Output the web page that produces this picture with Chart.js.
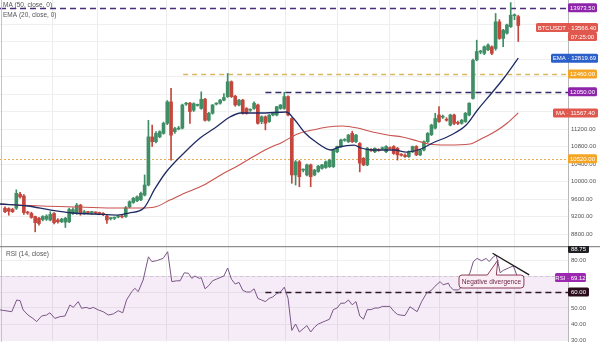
<!DOCTYPE html>
<html>
<head>
<meta charset="utf-8">
<script src="https://cdn.jsdelivr.net/npm/chart.js@4.4.0/dist/chart.umd.min.js"></script>
<style>
  html, body { margin: 0; padding: 0; background: #fff; }
  #wrap { width: 600px; height: 342px; position: relative; overflow: hidden; }
  #pricePane { position: absolute; left: 0; top: 0; width: 600px; height: 246px; }
  #rsiPane { position: absolute; left: 0; top: 246px; width: 600px; height: 96px; }
</style>
</head>
<body>
<div id="wrap">
  <div id="pricePane"><canvas id="priceChart"></canvas></div>
  <div id="rsiPane"><canvas id="rsiChart"></canvas></div>
</div>
<script>
// daily BTC/USDT candles, oldest first
const opens = [
  9390, 9380, 9360, 9390, 9710, 9670, 9290, 9270, 9200, 9160,
  9130, 9140, 9120, 9270, 9120, 9080, 9070, 9080, 9270, 9270,
  9460, 9270, 9300, 9290, 9300, 9280, 9270, 9210, 9150, 9160,
  9190, 9200, 9200, 9420, 9520, 9560, 9580, 9690, 9920, 11020,
  10910, 11020, 11100, 11330, 11820, 11140, 11200, 11220, 11770, 11790,
  11630, 11740, 11670, 11880, 11400, 11560, 11770, 11790, 11860, 11940,
  12280, 11950, 11750, 11860, 11670, 11630, 11670, 11750, 11370, 11480,
  11370, 11520, 11520, 11670, 11670, 11940, 11440, 10150, 10450, 10260,
  10150, 10380, 10150, 10230, 10300, 10320, 10340, 10340, 10680, 10800,
  10940, 10910, 11100, 10910, 10870, 10530, 10380, 10720, 10680, 10720,
  10750, 10680, 10760, 10800, 10760, 10610, 10600, 10570, 10680, 10800,
  10610, 10720, 10910, 11070, 11220, 11520, 11470, 11420, 11290, 11520,
  11340, 11330, 11370, 11520, 11900, 12780, 12960, 12930, 13010, 13080,
  13040, 13650, 13270, 13390, 13540, 13790, 13770
];
const highs = [
  9420, 9400, 9390, 9810, 9750, 9700, 9320, 9300, 9210, 9180,
  9220, 9240, 9310, 9290, 9150, 9160, 9180, 9390, 9400, 9500,
  9480, 9340, 9320, 9320, 9310, 9300, 9290, 9240, 9180, 9190,
  9220, 9230, 9430, 9560, 9640, 9670, 9760, 10150, 11400, 11290,
  11140, 11160, 11360, 11850, 12130, 11240, 11260, 11770, 11810, 11810,
  11800, 11770, 12050, 11900, 11580, 11760, 11800, 11880, 12010, 12470,
  12300, 11970, 11880, 11880, 11690, 11660, 11820, 11770, 11500, 11500,
  11530, 11570, 11720, 11760, 12040, 11960, 11460, 10480, 10480, 10290,
  10400, 10400, 10280, 10370, 10390, 10470, 10510, 10740, 10810, 10970,
  10980, 11080, 11150, 11080, 10890, 10550, 10780, 10750, 10770, 10750,
  10790, 10820, 10790, 10820, 10780, 10640, 10630, 10700, 10810, 10820,
  10740, 10930, 11120, 11310, 11560, 11710, 11520, 11460, 11540, 11540,
  11380, 11420, 11580, 11800, 12800, 13230, 13000, 13100, 13150, 13100,
  13840, 13700, 13480, 13600, 14090, 13830, 13800
];
const lows = [
  9290, 9230, 9290, 9360, 9620, 9250, 9250, 9160, 8850, 9000,
  9100, 9110, 9100, 9030, 9050, 9060, 8950, 9060, 9250, 9250,
  9230, 9250, 9260, 9250, 9260, 9240, 9220, 9040, 9120, 9130,
  9170, 9170, 9180, 9400, 9500, 9540, 9560, 9670, 9900, 10800,
  10880, 11000, 11080, 11300, 10490, 11100, 11180, 11200, 11740, 11330,
  11600, 11720, 11650, 11380, 11380, 11540, 11750, 11770, 11840, 11920,
  11920, 11720, 11730, 11540, 11540, 11600, 11650, 11310, 11320, 11180,
  11350, 11500, 11500, 11650, 11650, 11500, 9960, 9920, 9880, 10220,
  10130, 9880, 10130, 10210, 10280, 10300, 10320, 10320, 10660, 10780,
  10920, 10890, 10890, 10890, 10220, 10360, 10360, 10690, 10660, 10690,
  10730, 10660, 10740, 10620, 10490, 10580, 10550, 10550, 10660, 10590,
  10590, 10700, 10890, 11050, 11200, 11350, 11440, 11380, 11270, 11300,
  11300, 11310, 11350, 11500, 11880, 12760, 12920, 12900, 12990, 12900,
  13000, 13250, 13080, 13370, 13520, 13700, 13200
];
const closes = [
  9310, 9320, 9310, 9730, 9650, 9290, 9280, 9180, 9060, 9040,
  9200, 9210, 9250, 9060, 9080, 9140, 9160, 9360, 9360, 9460,
  9270, 9310, 9290, 9300, 9280, 9270, 9250, 9120, 9160, 9170,
  9200, 9190, 9400, 9540, 9615, 9650, 9730, 9920, 11020, 10910,
  11100, 11140, 11330, 11820, 11060, 11210, 11220, 11750, 11790, 11600,
  11780, 11750, 11880, 11400, 11560, 11750, 11790, 11860, 11920, 12280,
  11940, 11750, 11860, 11560, 11560, 11640, 11790, 11330, 11480, 11330,
  11520, 11560, 11710, 11750, 11940, 11520, 10150, 10450, 10110, 10270,
  10380, 10110, 10260, 10350, 10380, 10450, 10490, 10720, 10800, 10950,
  10950, 11060, 10910, 11060, 10420, 10380, 10760, 10710, 10760, 10710,
  10760, 10800, 10750, 10640, 10610, 10600, 10570, 10680, 10800, 10610,
  10720, 10910, 11100, 11290, 11440, 11370, 11490, 11400, 11520, 11330,
  11330, 11400, 11560, 11790, 12770, 12970, 12980, 13080, 13120, 12930,
  13650, 13270, 13460, 13580, 13800, 13810, 13566.4
];

// EMA(20) and MA(50), [candle index, value]
const emaLine = [
  [-1.3, 9486], [6, 9440], [11.9, 9350], [17.9, 9280], [23.8, 9257], [29.8, 9234],
  [32.8, 9280], [36.8, 9394], [39.7, 9830], [42.7, 10217], [47.7, 10674], [51.7, 10994],
  [55.6, 11223], [59.6, 11474], [62.5, 11566], [67.6, 11566], [74.5, 11589], [76.6, 11429],
  [79.5, 11109], [82.4, 10903], [86.4, 10720], [88.5, 10789], [92.5, 10834], [94.3, 10766],
  [97.4, 10720], [103.3, 10720], [106.3, 10674], [110.2, 10743], [113.3, 10880], [118.2, 11063],
  [122.2, 11291], [125.2, 11634], [129.2, 12046], [132.2, 12366], [136, 12819.69]
];
const maLine = [
  [-1.3, 9486], [9.9, 9440], [19.9, 9417], [29.8, 9394], [35.8, 9394], [39.7, 9417],
  [43.7, 9577], [47.7, 9737], [52.7, 9920], [57.6, 10171], [61.6, 10354], [65.6, 10560],
  [69.6, 10750], [73.5, 10900], [77.5, 11086], [81.5, 11177], [85.5, 11246], [89.4, 11269],
  [93.4, 11223], [97.4, 11131], [101.4, 11063], [105.3, 11017], [109.3, 10926], [112.3, 10857],
  [117.2, 10834], [123.2, 10857], [126.1, 10971], [130.1, 11154], [133.1, 11337], [136, 11567.4]
];

// RSI(14), [candle index, value]
const rsiLine = [
  [-1.3, 48.8], [1.8, 47.7], [3.1, 55], [4, 54.6], [4.8, 48.8], [6.1, 45.6], [7.4, 43.5],
  [8.4, 41.5], [9.7, 45], [11, 45.6], [11.9, 47], [13.2, 43.5], [14.6, 44.6], [15.9, 45],
  [17.2, 51.9], [18.1, 50.4], [19.4, 54], [20.3, 49.8], [21.5, 50.4], [22.5, 49.6], [23.4, 50.4],
  [24.7, 48.8], [26, 47.7], [27.4, 45.6], [28.7, 46.3], [30, 48.3], [31.2, 47], [32.2, 55],
  [33.6, 60.2], [34.4, 62.3], [35.3, 60.2], [36.6, 67.5], [38, 82], [38.9, 79], [40.2, 79.6],
  [41.9, 81], [43.1, 85.2], [44.2, 66.5], [45.5, 67], [46.4, 67], [47.5, 72], [48.6, 71.7],
  [49.5, 68.5], [50.3, 70], [51.5, 68.5], [52, 69], [53, 62], [54, 64], [55, 67], [56, 68],
  [57, 69], [58, 70], [59, 75], [60, 68], [61, 65], [62, 66], [63, 61], [64, 60], [65, 60],
  [66, 62], [67, 56], [68, 55], [69, 54], [70, 56], [71, 57], [72, 59], [73, 60], [74, 63],
  [75, 56], [76, 36], [77, 40], [78, 35], [79, 37], [80, 39], [81, 35], [82, 38], [83, 40],
  [84, 41], [85, 42], [86, 43], [87, 49], [88, 50], [89, 53], [90, 53], [91, 55], [92, 52],
  [93, 54], [94, 45], [95, 43], [96, 49], [97, 49], [98, 50], [99, 50], [100, 51], [101, 51],
  [102, 51], [103, 48], [104, 46], [104.7, 45.6], [106, 45.3], [107.3, 50.8], [108.1, 49.5],
  [109.2, 47.7], [110.4, 54], [111.7, 59.2], [113.1, 61.3], [113.9, 63.5], [115.3, 66.5],
  [116.1, 64.5], [117.5, 65.5], [117.9, 63.5], [118.8, 61.3], [120.1, 61.3], [121, 63],
  [121.9, 66.5], [123.2, 71.9], [124.1, 79], [125.1, 81], [126.3, 79.5], [127.5, 81],
  [128.3, 79], [129.4, 82], [130.1, 83.1], [130.7, 77.9], [131.2, 72], [132, 73.5],
  [133.4, 75], [134.7, 76.3], [135.6, 70.6], [136, 69.12]
];

// horizontal levels
const priceLevels = [13973.5, 12460, 12050, 10520];
const rsiLevels = [60];

// axis ticks
const priceTicks = [8800, 9200, 9600, 10000, 10400, 10800, 11200, 11600, 12000, 12400, 12800, 13200, 13600];
const rsiTicks = [30, 40, 50, 60, 70, 80];
const timeMarks = [12.5, 24.4, 42.9, 59.1, 74.2, 88, 102, 115, 125.1, 135.1];

const FONT = '"Liberation Sans", Arial, sans-serif';
const UP = '#3f8e66';
const DOWN = '#c4473d';
const X_MIN = -1.325;
const X_MAX = 149.18;
const AXIS_W = 32;

const lastClose = closes[closes.length - 1];
const lastEma = emaLine[emaLine.length - 1][1];
const lastMa = maLine[maLine.length - 1][1];
const lastRsi = rsiLine[rsiLine.length - 1][1];

function drawTag(ctx, y, text, bg, left, right) {
  ctx.fillStyle = bg;
  ctx.beginPath();
  ctx.roundRect(left, y - 4.5, right - left, 9, 1.5);
  ctx.fill();
  ctx.fillStyle = '#fff';
  ctx.font = '6px ' + FONT;
  ctx.textAlign = 'center';
  ctx.textBaseline = 'middle';
  ctx.fillText(text, (left + right) / 2, y + 0.5);
}

function dashed(ctx, x0, x1, y, color, width, dash) {
  ctx.save();
  ctx.strokeStyle = color;
  ctx.lineWidth = width;
  ctx.setLineDash(dash);
  ctx.beginPath();
  ctx.moveTo(x0, y);
  ctx.lineTo(x1, y);
  ctx.stroke();
  ctx.restore();
}

function xAxis() {
  return {
    type: 'linear', min: X_MIN, max: X_MAX, offset: false,
    ticks: { display: false },
    grid: { color: '#ececec', drawTicks: false, offset: false },
    border: { display: false },
    afterBuildTicks: s => { s.ticks = timeMarks.map(v => ({ value: v })); }
  };
}

function fixAxis(s) {
  s.width = AXIS_W;
  s.paddingTop = 0;
  s.paddingBottom = 0;
}

const levelStyles = [
  { from: X_MIN, color: '#4a2b7c', width: 1.5, dash: [6, 4] },
  { from: 47.2, color: '#d8b75e', width: 1.5, dash: [5, 4] },
  { from: 69, color: '#342a68', width: 1.5, dash: [6, 4] },
  { from: X_MIN, color: '#e8ad55', width: 1, dash: [2, 2] }
];

const pricePlugin = {
  id: 'pricePlugin',
  beforeDatasetsDraw(chart) {
    const { ctx, chartArea: a, scales: { x, y } } = chart;
    priceLevels.forEach((p, i) => {
      const st = levelStyles[i];
      dashed(ctx, Math.max(a.left, x.getPixelForValue(st.from)), a.right, Math.round(y.getPixelForValue(p)) + 0.5, st.color, st.width, st.dash);
    });
    ctx.save();
    ctx.strokeStyle = '#c4c4c4';
    ctx.lineWidth = 1;
    ctx.beginPath();
    ctx.moveTo(1.5, 0);
    ctx.lineTo(1.5, a.bottom);
    ctx.stroke();
    ctx.restore();
  },
  afterDraw(chart) {
    const { ctx, chartArea: a, scales: { y } } = chart;
    ctx.save();
    ctx.fillStyle = '#555';
    ctx.font = '6.5px ' + FONT;
    ctx.textAlign = 'left';
    ctx.textBaseline = 'alphabetic';
    ctx.fillText('MA (50, close, 0)', 3, 7);
    ctx.fillText('EMA (20, close, 0)', 3, 16.5);

    const r = a.right;
    drawTag(ctx, y.getPixelForValue(priceLevels[0]), priceLevels[0].toFixed(2), '#8e24aa', r, r + 29);
    const cy = y.getPixelForValue(lastClose) + 2;
    drawTag(ctx, cy, 'BTCUSDT · ' + lastClose.toFixed(2), '#e0584d', r - 32, r + 30);
    drawTag(ctx, cy + 9, '07:25:00', '#e0584d', r, r + 29);
    drawTag(ctx, y.getPixelForValue(lastEma), 'EMA · ' + lastEma.toFixed(2), '#2b5fc9', r - 17, r + 30);
    drawTag(ctx, y.getPixelForValue(priceLevels[1]), priceLevels[1].toFixed(2), '#f5a524', r, r + 29);
    drawTag(ctx, y.getPixelForValue(priceLevels[2]), priceLevels[2].toFixed(2), '#8e24aa', r, r + 29);
    drawTag(ctx, y.getPixelForValue(lastMa), 'MA · ' + lastMa.toFixed(2), '#e0584d', r - 15, r + 30);
    drawTag(ctx, y.getPixelForValue(priceLevels[3]), priceLevels[3].toFixed(2), '#f5a524', r, r + 29);
    ctx.restore();
  }
};

const candleColor = c => closes[c.dataIndex] >= opens[c.dataIndex] ? UP : DOWN;
const priceTagValues = [...priceLevels, lastClose, lastEma, lastMa];

new Chart(document.getElementById('priceChart'), {
  type: 'bar',
  data: {
    datasets: [
      {
        type: 'line', label: 'EMA 20',
        data: emaLine.map(([x, y]) => ({ x, y })),
        borderColor: '#1f2b63', borderWidth: 1.3, pointRadius: 0,
        cubicInterpolationMode: 'monotone', order: 0
      },
      {
        type: 'line', label: 'MA 50',
        data: maLine.map(([x, y]) => ({ x, y })),
        borderColor: '#c8534f', borderWidth: 1.1, pointRadius: 0,
        cubicInterpolationMode: 'monotone', order: 0
      },
      {
        label: 'body',
        data: opens.map((o, i) => ({ x: i, y: [o, closes[i]] })),
        backgroundColor: candleColor, barThickness: 3, grouped: false,
        minBarLength: 1, order: 1
      },
      {
        label: 'wick',
        data: lows.map((l, i) => ({ x: i, y: [l, highs[i]] })),
        backgroundColor: candleColor, barThickness: 1, grouped: false, order: 2
      }
    ]
  },
  options: {
    responsive: true, maintainAspectRatio: false, animation: false,
    devicePixelRatio: 1,
    layout: { padding: 0 },
    plugins: { legend: { display: false }, tooltip: { enabled: false } },
    scales: {
      x: xAxis(),
      y: {
        position: 'right', min: 8526, max: 14149,
        ticks: {
          color: '#555', padding: 3, font: { family: FONT, size: 6 },
          callback: v => {
            if (priceTagValues.some(t => Math.abs(t - v) < 100)) return '';
            if (v < lastClose && lastClose - v < 400) return '';
            return v.toFixed(2);
          }
        },
        grid: { color: '#efefef', drawTicks: false },
        border: { color: '#b8b8b8' },
        afterBuildTicks: s => { s.ticks = priceTicks.map(v => ({ value: v })); },
        afterFit: fixAxis
      }
    }
  },
  plugins: [pricePlugin]
});

const rsiPlugin = {
  id: 'rsiPlugin',
  beforeDatasetsDraw(chart) {
    const { ctx, chartArea: a, scales: { x, y } } = chart;
    ctx.save();
    ctx.fillStyle = 'rgba(156, 39, 176, 0.09)';
    const top = y.getPixelForValue(70);
    ctx.fillRect(a.left, top, a.width, y.getPixelForValue(30) - top);
    ctx.restore();
    dashed(ctx, a.left, a.right, Math.round(top) + 0.5, '#d3c3d8', 1, [3, 3]);
    dashed(ctx, x.getPixelForValue(69), a.right, Math.round(y.getPixelForValue(rsiLevels[0])) + 0.5, '#2e1a24', 1.5, [6, 4]);
    ctx.save();
    ctx.strokeStyle = '#c4c4c4';
    ctx.beginPath();
    ctx.moveTo(1.5, 0);
    ctx.lineTo(1.5, a.bottom);
    ctx.stroke();
    ctx.restore();
  },
  afterDatasetsDraw(chart) {
    const { ctx, scales: { x, y } } = chart;
    ctx.save();
    // falling trend line over the last RSI highs
    ctx.strokeStyle = '#1a1a1a';
    ctx.lineWidth = 1.3;
    ctx.beginPath();
    ctx.moveTo(x.getPixelForValue(129.2), y.getPixelForValue(84.2));
    ctx.lineTo(x.getPixelForValue(138.9), y.getPixelForValue(70.7));
    ctx.stroke();

    // callout
    const l = x.getPixelForValue(120.3), rr = x.getPixelForValue(137.5);
    const t = y.getPixelForValue(70.6), b = y.getPixelForValue(62.5);
    const b0 = x.getPixelForValue(127.8), b1 = x.getPixelForValue(130.2);
    const tipX = x.getPixelForValue(130.6), tipY = y.getPixelForValue(80);
    const rad = 3;
    ctx.beginPath();
    ctx.moveTo(l + rad, t);
    ctx.lineTo(b0, t);
    ctx.lineTo(tipX, tipY);
    ctx.lineTo(b1, t);
    ctx.lineTo(rr - rad, t);
    ctx.arcTo(rr, t, rr, t + rad, rad);
    ctx.lineTo(rr, b - rad);
    ctx.arcTo(rr, b, rr - rad, b, rad);
    ctx.lineTo(l + rad, b);
    ctx.arcTo(l, b, l, b - rad, rad);
    ctx.lineTo(l, t + rad);
    ctx.arcTo(l, t, l + rad, t, rad);
    ctx.closePath();
    ctx.fillStyle = 'rgba(252, 240, 246, 0.9)';
    ctx.fill();
    ctx.strokeStyle = '#8d3b55';
    ctx.lineWidth = 1;
    ctx.stroke();
    ctx.fillStyle = '#6e2346';
    ctx.font = '6.5px ' + FONT;
    ctx.textAlign = 'center';
    ctx.textBaseline = 'middle';
    ctx.fillText('Negative divergence', (l + rr) / 2, (t + b) / 2 + 0.5);
    ctx.restore();
  },
  afterDraw(chart) {
    const { ctx, chartArea: a, scales: { y } } = chart;
    ctx.save();
    ctx.fillStyle = '#555';
    ctx.font = '6.5px ' + FONT;
    ctx.textAlign = 'left';
    ctx.textBaseline = 'alphabetic';
    ctx.fillText('RSI (14, close)', 6, 10);

    ctx.strokeStyle = '#8f8f8f';
    ctx.lineWidth = 1.5;
    ctx.beginPath();
    ctx.moveTo(0, 0.5);
    ctx.lineTo(600, 0.5);
    ctx.stroke();

    const r = a.right;
    drawTag(ctx, 2.5, y.max.toFixed(2), '#1f1f24', r, r + 21);
    drawTag(ctx, y.getPixelForValue(lastRsi), 'RSI · ' + lastRsi.toFixed(2), '#9c27b0', r - 13, r + 18);
    drawTag(ctx, y.getPixelForValue(rsiLevels[0]), rsiLevels[0].toFixed(2), '#2a0d1c', r, r + 21);
    ctx.restore();
  }
};

const rsiTagValues = [lastRsi, ...rsiLevels];

new Chart(document.getElementById('rsiChart'), {
  type: 'line',
  data: {
    datasets: [{
      label: 'RSI 14',
      data: rsiLine.map(([x, y]) => ({ x, y })),
      borderColor: '#7a5685', borderWidth: 1, pointRadius: 0, tension: 0
    }]
  },
  options: {
    responsive: true, maintainAspectRatio: false, animation: false,
    devicePixelRatio: 1,
    layout: { padding: 0 },
    plugins: { legend: { display: false }, tooltip: { enabled: false } },
    scales: {
      x: xAxis(),
      y: {
        position: 'right', min: 28.75, max: 88.75,
        ticks: {
          color: '#555', padding: 3, font: { family: FONT, size: 6 },
          callback: v => rsiTagValues.some(t => Math.abs(t - v) < 2) ? '' : v.toFixed(2)
        },
        grid: { color: '#efefef', drawTicks: false },
        border: { color: '#b8b8b8' },
        afterBuildTicks: s => { s.ticks = rsiTicks.map(v => ({ value: v })); },
        afterFit: fixAxis
      }
    }
  },
  plugins: [rsiPlugin]
});
</script>
</body>
</html>
